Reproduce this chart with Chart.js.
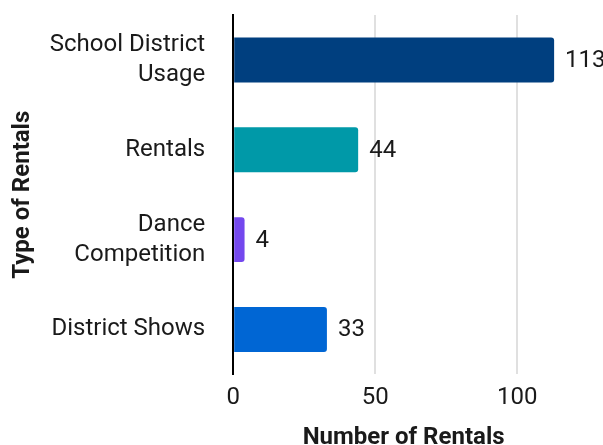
<!DOCTYPE html>
<html>
<head>
<meta charset="utf-8">
<script src="https://cdn.jsdelivr.net/npm/chart.js@4"></script>
<style>
  html, body { margin: 0; padding: 0; background: #fff; }
  #wrap { width: 603px; height: 445px; }
</style>
</head>
<body>
<div id="wrap"><canvas id="myChart" width="603" height="445"></canvas></div>
<script>
var categories = [['School District', 'Usage'], 'Rentals', ['Dance', 'Competition'], 'District Shows'];
var rentals = [113, 44, 4, 33];
var barColors = ['#003f7f', '#0099a8', '#7448ee', '#0066d4'];
var xTicks = [0, 50, 100];

// value labels drawn just past the end of each bar
var valueLabels = {
    id: 'valueLabels',
    afterDatasetsDraw: function (chart) {
        var ctx = chart.ctx;
        var meta = chart.getDatasetMeta(0);
        ctx.save();
        ctx.font = '24px Roboto';
        ctx.fillStyle = '#1a1a1a';
        ctx.textAlign = 'left';
        ctx.textBaseline = 'middle';
        meta.data.forEach(function (bar, i) {
            ctx.fillText(String(rentals[i]), bar.x + 11, bar.y + 1);
        });
        ctx.restore();
    }
};

const ctx = document.getElementById('myChart');
new Chart(ctx, {
    type: 'bar',
    data: {
        labels: categories,
        datasets: [{
            label: 'Number of Rentals',
            data: rentals,
            backgroundColor: barColors,
            borderRadius: 3,
            borderSkipped: 'start',
            barPercentage: 0.5,
            categoryPercentage: 1
        }]
    },
    options: {
        indexAxis: 'y',
        responsive: false,
        animation: false,
        layout: { padding: { top: 15, right: 29, bottom: 0, left: 0 } },
        plugins: {
            legend: { display: false },
            tooltip: { enabled: false }
        },
        scales: {
            x: {
                min: 0,
                max: 120,
                afterBuildTicks: function (axis) {
                    axis.ticks = xTicks.map(function (v) { return { value: v }; });
                },
                afterFit: function (axis) {
                    axis.paddingLeft = 0;
                    axis.paddingRight = 0;
                },
                grid: { color: '#e0e0e0', lineWidth: 2, drawTicks: false },
                border: { display: false },
                ticks: {
                    color: '#1a1a1a',
                    padding: 9,
                    font: { family: 'Roboto', size: 24, lineHeight: 1.2 }
                },
                title: {
                    display: true,
                    text: 'Number of Rentals',
                    color: '#1a1a1a',
                    padding: { top: 2, bottom: -7 },
                    font: { family: 'Roboto', size: 24, weight: 'bold', lineHeight: 1.2 }
                }
            },
            y: {
                afterFit: function (axis) {
                    axis.paddingTop = 0;
                    axis.paddingBottom = 0;
                },
                grid: { display: false, drawTicks: false },
                border: { display: true, color: '#000', width: 2 },
                ticks: {
                    color: '#1a1a1a',
                    padding: 28,
                    font: { family: 'Roboto', size: 24, lineHeight: 1.25 }
                },
                title: {
                    display: true,
                    text: 'Type of Rentals',
                    color: '#1a1a1a',
                    padding: { top: 9, bottom: -16 },
                    font: { family: 'Roboto', size: 24, weight: 'bold', lineHeight: 1.2 }
                }
            }
        }
    },
    plugins: [valueLabels]
});
</script>
</body>
</html>
